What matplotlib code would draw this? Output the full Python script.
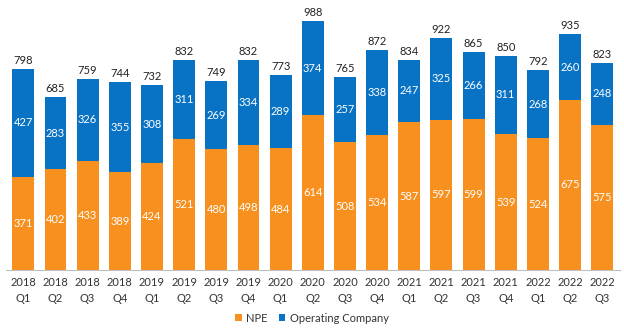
import matplotlib
matplotlib.use('Agg')
import matplotlib.pyplot as plt
import numpy as np

plt.rcParams['font.family'] = ['Lato', 'DejaVu Sans']

quarters = ['2018\nQ1', '2018\nQ2', '2018\nQ3', '2018\nQ4',
            '2019\nQ1', '2019\nQ2', '2019\nQ3', '2019\nQ4',
            '2020\nQ1', '2020\nQ2', '2020\nQ3', '2020\nQ4',
            '2021\nQ1', '2021\nQ2', '2021\nQ3', '2021\nQ4',
            '2022\nQ1', '2022\nQ2', '2022\nQ3']
npe = [371, 402, 433, 389, 424, 521, 480, 498, 484, 614, 508, 534, 587, 597, 599, 539, 524, 675, 575]
opco = [427, 283, 326, 355, 308, 311, 269, 334, 289, 374, 257, 338, 247, 325, 266, 311, 268, 260, 248]

orange = '#F7901E'
blue = '#0872C4'

fig = plt.figure(figsize=(6.24, 3.29), dpi=100)
ax = fig.add_axes([0.01, 0.179, 0.984, 0.821])

x = np.arange(len(quarters))
w = 0.68
b1 = ax.bar(x, npe, w, color=orange, label='NPE')
b2 = ax.bar(x, opco, w, bottom=npe, color=blue, label='Operating Company')

for i in range(len(x)):
    ax.text(x[i], npe[i] / 2, str(npe[i]), ha='center', va='center', color='white', fontsize=8)
    ax.text(x[i], npe[i] + opco[i] / 2, str(opco[i]), ha='center', va='center', color='white', fontsize=8)
    ax.text(x[i], npe[i] + opco[i] + 12, str(npe[i] + opco[i]), ha='center', va='bottom', color='#222222', fontsize=8)

ax.set_xlim(-0.53, 18.56)
ax.set_ylim(0, 1071)
ax.set_xticks(x)
ax.set_xticklabels(quarters, fontsize=8, color='#333333', linespacing=1.5)
ax.tick_params(axis='x', length=0, pad=5)
ax.set_yticks([])
for s in ['top', 'right', 'left']:
    ax.spines[s].set_visible(False)
ax.spines['bottom'].set_color('#bfbfbf')

fig.legend(handles=[b1, b2], loc='center', bbox_to_anchor=(0.5, 0.033), ncol=2, frameon=False,
           fontsize=8, handlelength=0.6, handleheight=0.6, handletextpad=0.4, columnspacing=1.0,
           labelcolor='#333333')

plt.savefig('out.png', dpi=100)
